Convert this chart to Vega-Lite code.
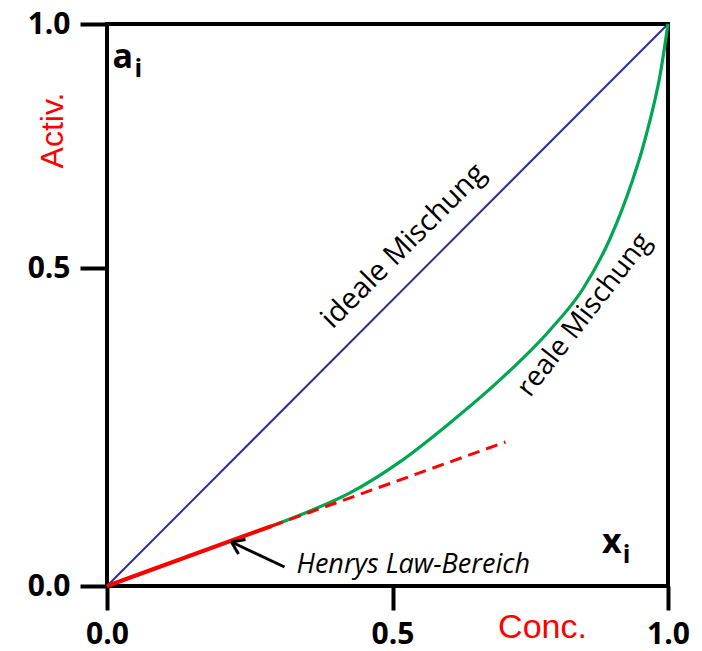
{
  "$schema": "https://vega.github.io/schema/vega-lite/v6.json",
  "width": 561,
  "height": 562,
  "autosize": {"type": "none"},
  "padding": {"left": 107, "top": 24, "right": 34, "bottom": 65},
  "background": "white",
  "config": {
    "view": {"stroke": "black", "strokeWidth": 4},
    "axis": {"grid": false, "domain": false}
  },
  "datasets": {
    "ideal": [{"x": 0, "y": 0}, {"x": 1, "y": 1}],
    "real": [
      {"x": 0, "y": 0}, {"x": 0.1445, "y": 0.0472}, {"x": 0.2846, "y": 0.0931},
      {"x": 0.3546, "y": 0.1176}, {"x": 0.4247, "y": 0.1459}, {"x": 0.5127, "y": 0.1947},
      {"x": 0.6036, "y": 0.256}, {"x": 0.6945, "y": 0.3236}, {"x": 0.7855, "y": 0.4022},
      {"x": 0.8455, "y": 0.467}, {"x": 0.8945, "y": 0.5594}, {"x": 0.9364, "y": 0.6824},
      {"x": 0.9527, "y": 0.7408}, {"x": 0.9673, "y": 0.8023}, {"x": 0.9855, "y": 0.8945},
      {"x": 1, "y": 1}
    ],
    "henrySolid": [{"x": 0, "y": 0}, {"x": 0.2881, "y": 0.0942}],
    "henryDash": [{"x": 0.2881, "y": 0.0942}, {"x": 0.705, "y": 0.2264}],
    "arrow": [
      {"x": 0.3109, "y": 0.0299, "x2": 0.218, "y2": 0.0692},
      {"x": 0.218, "y": 0.0692, "x2": 0.2303, "y2": 0.0503},
      {"x": 0.218, "y": 0.0692, "x2": 0.2426, "y2": 0.073}
    ]
  },
  "layer": [
    {
      "data": {"name": "ideal"},
      "mark": {"type": "line", "color": "#2E3192", "strokeWidth": 2},
      "encoding": {
        "x": {
          "field": "x", "type": "quantitative",
          "scale": {"domain": [0, 0.5, 1], "range": [0, 285.5, 561], "nice": false},
          "axis": {
            "values": [0, 0.5, 1], "format": ".1f", "labelFlush": false,
            "tickSize": 24, "tickWidth": 4, "tickColor": "black",
            "labelFont": "Open Sans", "labelFontSize": 30, "labelFontWeight": "bold",
            "labelColor": "black", "labelPadding": 9,
            "title": "Conc.", "titleColor": "#FF0000", "titleFont": "Liberation Sans",
            "titleFontSize": 34, "titleFontWeight": "normal",
            "titleX": 435, "titleY": 51, "titleAlign": "center", "titleBaseline": "alphabetic"
          }
        },
        "y": {
          "field": "y", "type": "quantitative",
          "scale": {"domain": [0, 0.5, 1], "range": [562, 244, 0], "nice": false},
          "axis": {
            "values": [0, 0.5, 1], "format": ".1f",  "labelFlush": false,
            "tickSize": 27, "tickWidth": 4, "tickColor": "black",
            "labelFont": "Open Sans", "labelFontSize": 30, "labelFontWeight": "bold",
            "labelColor": "black", "labelPadding": 10,
            "title": "Activ.", "titleColor": "#FF0000", "titleFont": "Liberation Sans",
            "titleFontSize": 32, "titleFontWeight": "normal", "titleAngle": 270,
            "titleX": -55, "titleY": 106, "titleAlign": "center", "titleBaseline": "middle"
          }
        }
      }
    },
    {
      "data": {"name": "real"},
      "mark": {"type": "line", "color": "#00A651", "strokeWidth": 3.2, "interpolate": "monotone"},
      "encoding": {
        "x": {"field": "x", "type": "quantitative"},
        "y": {"field": "y", "type": "quantitative"}
      }
    },
    {
      "data": {"name": "henrySolid"},
      "mark": {"type": "line", "color": "#FF0000", "strokeWidth": 4},
      "encoding": {
        "x": {"field": "x", "type": "quantitative"},
        "y": {"field": "y", "type": "quantitative"}
      }
    },
    {
      "data": {"name": "henryDash"},
      "mark": {"type": "line", "color": "#FF0000", "strokeWidth": 3, "strokeDash": [12, 7]},
      "encoding": {
        "x": {"field": "x", "type": "quantitative"},
        "y": {"field": "y", "type": "quantitative"}
      }
    },
    {
      "data": {"name": "arrow"},
      "mark": {"type": "rule", "color": "black", "strokeWidth": 3},
      "encoding": {
        "x": {"field": "x", "type": "quantitative"},
        "y": {"field": "y", "type": "quantitative"},
        "x2": {"field": "x2"},
        "y2": {"field": "y2"}
      }
    },
    {
      "data": {"values": [{"x": 0.52, "y": 0.5451, "t": "ideale Mischung"}]},
      "mark": {"type": "text", "font": "Open Sans", "fontSize": 29, "angle": 315, "align": "center", "baseline": "middle", "color": "black"},
      "encoding": {
        "x": {"field": "x", "type": "quantitative"},
        "y": {"field": "y", "type": "quantitative"},
        "text": {"field": "t"}
      }
    },
    {
      "data": {"values": [{"x": 0.849, "y": 0.4261, "t": "reale Mischung"}]},
      "mark": {"type": "text", "font": "Open Sans", "fontSize": 28, "angle": 308, "align": "center", "baseline": "middle", "color": "black"},
      "encoding": {
        "x": {"field": "x", "type": "quantitative"},
        "y": {"field": "y", "type": "quantitative"},
        "text": {"field": "t"}
      }
    },
    {
      "data": {"values": [{"x": 0.3319, "y": 0.0204, "t": "Henrys Law-Bereich"}]},
      "mark": {"type": "text", "font": "Open Sans", "fontSize": 27, "fontStyle": "italic", "align": "left", "baseline": "alphabetic", "color": "black"},
      "encoding": {
        "x": {"field": "x", "type": "quantitative"},
        "y": {"field": "y", "type": "quantitative"},
        "text": {"field": "t"}
      }
    },
    {
      "data": {"values": [{"x": 0.0096, "y": 0.9098, "t": "a"}, {"x": 0.88, "y": 0.0519, "t": "x"}]},
      "mark": {"type": "text", "font": "Open Sans", "fontSize": 34, "fontWeight": "bold", "align": "left", "baseline": "alphabetic", "color": "black"},
      "encoding": {
        "x": {"field": "x", "type": "quantitative"},
        "y": {"field": "y", "type": "quantitative"},
        "text": {"field": "t"}
      }
    },
    {
      "data": {"values": [{"x": 0.0482, "y": 0.8914, "t": "i"}, {"x": 0.918, "y": 0.0362, "t": "i"}]},
      "mark": {"type": "text", "font": "Open Sans", "fontSize": 25, "fontWeight": "bold", "align": "left", "baseline": "alphabetic", "color": "black"},
      "encoding": {
        "x": {"field": "x", "type": "quantitative"},
        "y": {"field": "y", "type": "quantitative"},
        "text": {"field": "t"}
      }
    }
  ]
}
